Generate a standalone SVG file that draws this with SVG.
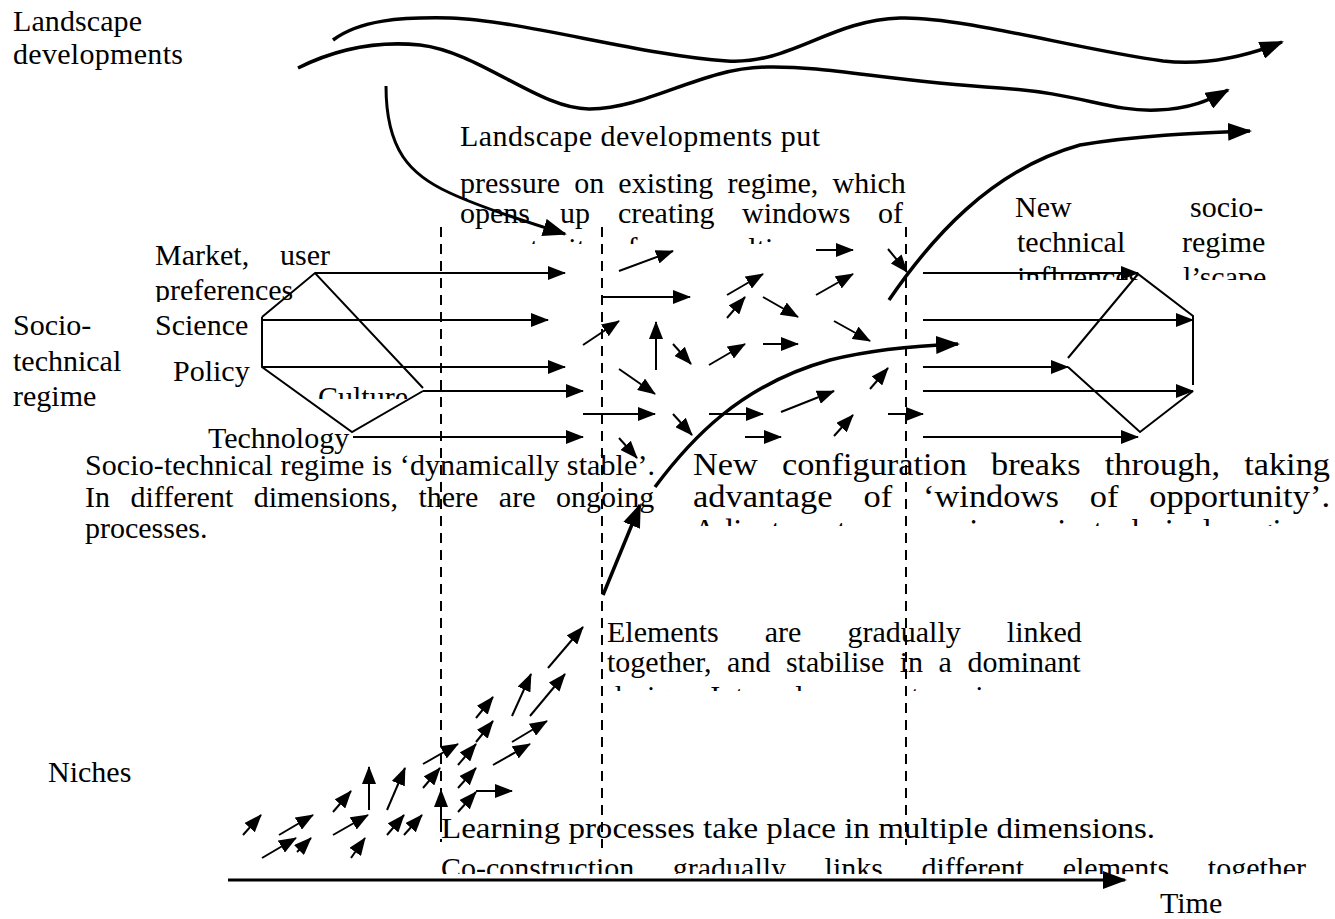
<svg xmlns="http://www.w3.org/2000/svg" width="1335" height="919" viewBox="0 0 1335 919">
<style>
.t{font-family:"Liberation Serif","Times New Roman",serif;font-size:30px;fill:#000}
.ln{fill:none;stroke:#000;stroke-width:2}
.ar{fill:none;stroke:#000;stroke-width:2;marker-end:url(#ah)}
.big{fill:none;stroke:#000;stroke-width:3.5;marker-end:url(#ahL)}
.dash{fill:none;stroke:#000;stroke-width:2;stroke-dasharray:10 7}
</style>
<defs>
<marker id="ah" markerUnits="userSpaceOnUse" viewBox="0 0 18 14" markerWidth="18" markerHeight="14" refX="17" refY="7" orient="auto"><path d="M0,0 L18,7 L0,14 Z" fill="#000"/></marker>
<marker id="ahL" markerUnits="userSpaceOnUse" viewBox="0 0 24 18" markerWidth="24" markerHeight="18" refX="22" refY="9" orient="auto"><path d="M0,0 L24,9 L0,18 Z" fill="#000"/></marker>
<clipPath id="c1"><rect x="450" y="0" width="470" height="244"/></clipPath>
<clipPath id="c2"><rect x="1000" y="190" width="280" height="90"/></clipPath>
<clipPath id="c3"><rect x="140" y="240" width="200" height="62"/></clipPath>
<clipPath id="c4"><rect x="300" y="370" width="130" height="29"/></clipPath>
<clipPath id="c5"><rect x="680" y="440" width="655" height="86"/></clipPath>
<clipPath id="c6"><rect x="600" y="610" width="500" height="81"/></clipPath>
<clipPath id="c7"><rect x="430" y="810" width="905" height="64"/></clipPath>
</defs>

<g id="connectors">
<path class="ar" d="M228,880 L1125,880" style="stroke-width:3;marker-end:url(#ahL)"/>
<path class="dash" d="M441,227 L441,842"/>
<path class="dash" d="M602,227 L602,848"/>
<path class="dash" d="M906,227 L906,845"/>
<path class="big" d="M333,40 C360,20 400,17 450,18 C520,20 640,55 727,61 C790,65 830,20 900,18 C960,16 1080,50 1163,61 C1210,66 1250,55 1282,42"/>
<path class="big" d="M298,68 C330,52 370,40 420,45 C480,52 540,110 590,109 C650,108 700,68 767,67 C830,66 880,80 1000,88 C1080,93 1110,112 1157,110 C1190,109 1210,100 1228,90"/>
<path class="big" d="M386,86 C386,150 410,175 450,193 C480,207 520,220 565,234" style="stroke-width:3"/>
<path class="big" d="M889,300 C930,240 990,170 1080,145 C1140,135 1200,133 1250,131"/>
<path class="big" d="M655,487 C690,440 740,385 830,360 C870,350 910,346 958,344"/>
<path class="big" d="M603,595 L640,505"/>
<path class="ln" d="M262,317 L315,273 L423,388 M262,317 L262,367 L352,432 L423,391"/>
<path class="ar" d="M315,273 L565,273"/>
<path class="ar" d="M262,320 L548,320"/>
<path class="ar" d="M262,367 L565,367"/>
<path class="ar" d="M423,391 L583,391"/>
<path class="ar" d="M353,437 L583,437"/>
<path class="ar" d="M619,271 L673,251"/>
<path class="ar" d="M602,297 L690,297"/>
<path class="ar" d="M583,345 L619,321"/>
<path class="ar" d="M656,370 L656,322"/>
<path class="ar" d="M673,344 L691,364"/>
<path class="ar" d="M619,369 L655,394"/>
<path class="ar" d="M583,414 L655,414"/>
<path class="ar" d="M673,414 L692,435"/>
<path class="ar" d="M619,438 L637,458"/>
<path class="ar" d="M727,295 L763,274"/>
<path class="ar" d="M727,318 L745,297"/>
<path class="ar" d="M709,365 L745,344"/>
<path class="ar" d="M763,344 L798,344"/>
<path class="ar" d="M763,297 L798,317"/>
<path class="ar" d="M816,250 L853,250"/>
<path class="ar" d="M816,295 L853,274"/>
<path class="ar" d="M834,321 L870,341"/>
<path class="ar" d="M888,249 L907,272"/>
<path class="ar" d="M709,414 L763,414"/>
<path class="ar" d="M781,412 L834,391"/>
<path class="ar" d="M745,437 L781,437"/>
<path class="ar" d="M834,436 L853,415"/>
<path class="ar" d="M870,389 L888,368"/>
<path class="ar" d="M888,414 L923,414"/>
<path class="ar" d="M923,273 L1138,273"/>
<path class="ar" d="M923,320 L1193,320"/>
<path class="ar" d="M923,367 L1068,367"/>
<path class="ar" d="M923,391 L1193,391"/>
<path class="ar" d="M923,437 L1138,437"/>
<path class="ln" d="M1068,358 L1138,274 L1193,316 L1193,385 M1068,367 L1140,432 L1193,391"/>
<path class="ar" d="M548,668 L583,627"/>
<path class="ar" d="M512,716 L531,674"/>
<path class="ar" d="M530,716 L565,674"/>
<path class="ar" d="M476,718 L493,697"/>
<path class="ar" d="M476,742 L493,721"/>
<path class="ar" d="M512,742 L547,721"/>
<path class="ar" d="M493,765 L530,744"/>
<path class="ar" d="M423,764 L458,744"/>
<path class="ar" d="M458,765 L476,744"/>
<path class="ar" d="M423,788 L440,768"/>
<path class="ar" d="M458,788 L476,768"/>
<path class="ar" d="M458,812 L476,792"/>
<path class="ar" d="M476,791 L512,791"/>
<path class="ar" d="M441,828 L441,790"/>
<path class="ar" d="M369,810 L369,767"/>
<path class="ar" d="M387,810 L405,768"/>
<path class="ar" d="M333,812 L351,791"/>
<path class="ar" d="M243,835 L261,815"/>
<path class="ar" d="M279,835 L313,815"/>
<path class="ar" d="M333,835 L368,815"/>
<path class="ar" d="M387,835 L404,815"/>
<path class="ar" d="M404,835 L422,815"/>
<path class="ar" d="M262,858 L296,838"/>
<path class="ar" d="M297,852 L311,838"/>
<path class="ar" d="M351,858 L365,838"/>
</g>

<g id="landscape-label"><text class="t" x="13" y="31" textLength="129">Landscape</text><text class="t" x="13" y="64" textLength="170">developments</text></g>
<g id="landscape-note">
<text class="t" x="460" y="146" textLength="360">Landscape developments put</text>
<text class="t" x="460" y="193" style="word-spacing:6.7px">pressure on existing regime, which</text>
<text class="t" y="223"><tspan x="460">opens</tspan> <tspan x="560">up</tspan> <tspan x="618">creating</tspan> <tspan x="742">windows</tspan> <tspan x="878">of</tspan></text>
<text class="t" x="460" y="258" style="word-spacing:20px" clip-path="url(#c1)">opportunity for novelties.</text>
</g>
<g id="new-regime-note">
<text class="t" y="217"><tspan x="1015">New</tspan> <tspan x="1190">socio-</tspan></text>
<text class="t" y="252"><tspan x="1017">technical</tspan> <tspan x="1182">regime</tspan></text>
<text class="t" y="287" clip-path="url(#c2)"><tspan x="1017">influences</tspan> <tspan x="1183">l’scape</tspan></text>
</g>
<g id="regime-label"><text class="t" x="13" y="335">Socio-</text><text class="t" x="13" y="371">technical</text><text class="t" x="13" y="406">regime</text></g>
<g id="dim-market"><text class="t" x="155" y="265" style="word-spacing:23.4px">Market, user</text><text class="t" x="155" y="300" clip-path="url(#c3)">preferences</text></g>
<g id="dim-science"><text class="t" x="155" y="335">Science</text></g>
<g id="dim-policy"><text class="t" x="173" y="381">Policy</text></g>
<g id="dim-culture"><text class="t" x="318" y="407" clip-path="url(#c4)">Culture</text></g>
<g id="dim-technology"><text class="t" x="208" y="448">Technology</text></g>
<g id="regime-note">
<text class="t" x="85" y="475" textLength="570" lengthAdjust="spacing">Socio-technical regime is ‘dynamically stable’.</text>
<text class="t" x="85" y="507" style="word-spacing:13px">In different dimensions, there are ongoing</text>
<text class="t" x="85" y="538">processes.</text>
</g>
<g id="breakthrough-note">
<text class="t" x="693" y="475" style="font-size:31px;word-spacing:14px" textLength="637" lengthAdjust="spacingAndGlyphs">New configuration breaks through, taking</text>
<text class="t" x="693" y="507" style="font-size:31px;word-spacing:20px" textLength="637" lengthAdjust="spacingAndGlyphs">advantage of ‘windows of opportunity’.</text>
<text class="t" x="693" y="541" style="font-size:31px;word-spacing:10px" textLength="637" lengthAdjust="spacingAndGlyphs" clip-path="url(#c5)">Adjustments occur in socio-technical regime.</text>
</g>
<g id="elements-note">
<text class="t" x="607" y="642" style="word-spacing:38.6px">Elements are gradually linked</text>
<text class="t" x="607" y="672" style="word-spacing:8px">together, and stabilise in a dominant</text>
<text class="t" x="607" y="706" style="word-spacing:10px" clip-path="url(#c6)">design. Internal momentum increases.</text>
</g>
<g id="niches-label"><text class="t" x="48" y="782">Niches</text></g>
<g id="niches-note">
<text class="t" x="441" y="838" textLength="714" lengthAdjust="spacingAndGlyphs">Learning processes take place in multiple dimensions.</text>
<text class="t" x="441" y="878" style="word-spacing:31px" clip-path="url(#c7)">Co-construction gradually links different elements together.</text>
</g>
<g id="time-label"><text class="t" x="1160" y="913">Time</text></g>
</svg>
